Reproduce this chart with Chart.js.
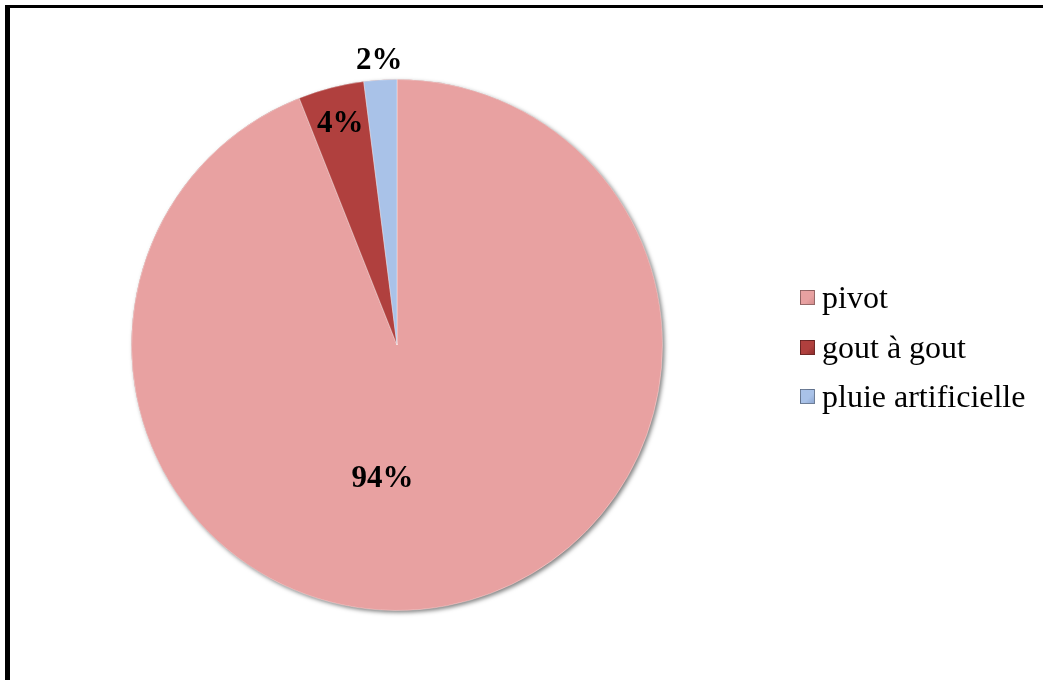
<!DOCTYPE html>
<html>
<head>
<meta charset="utf-8">
<script src="https://cdn.jsdelivr.net/npm/chart.js@4.4.1/dist/chart.umd.min.js"></script>
<style>
  html, body { margin: 0; padding: 0; background: #fff; }
  body { width: 1043px; height: 680px; position: relative; overflow: hidden; }
  #frame {
    position: absolute; left: 5px; top: 5px; width: 1100px; height: 672px;
    border-top: 3px solid #000; border-left: 5px solid #000;
    border-bottom: 1px solid #d0d0d0;
  }
  #chart { position: absolute; left: 0; top: 0; }
  #legend {
    position: absolute; left: 800px; top: 273px;
    font-family: "Liberation Serif", "Times New Roman", serif; font-size: 32px; color: #000;
  }
  .row { display: flex; align-items: center; height: 49.5px; }
  .box { width: 13px; height: 13px; margin-right: 7px; border: 1px solid rgba(0,0,0,0.35); box-sizing: content-box; }
</style>
</head>
<body>
<div id="frame"></div>
<canvas id="chart" width="1043" height="680"></canvas>
<div id="legend"></div>
<script>
const categories = ['pivot', 'gout à gout', 'pluie artificielle'];
const shares = [94, 4, 2];
const percentLabels = ['94%', '4%', '2%'];

const fills = ['#e8a1a1', '#b0403e', '#a9c2e8'];
const rims = ['#d48c8c', '#8f2e2c', '#8ea8d2'];
// radial position of each percentage label (fraction of the outer radius) and a sideways nudge
const labelRadius = [0.515, 0.858, 1.07];
const labelShiftX = [-40, 0, 0];

function sliceFill(ctx) {
  const i = ctx.dataIndex;
  const arc = ctx.element;
  const chart = ctx.chart;
  if (!arc || !arc.outerRadius) return fills[i];
  const g = chart.ctx.createRadialGradient(arc.x, arc.y, 0, arc.x, arc.y, arc.outerRadius);
  g.addColorStop(0, fills[i]);
  g.addColorStop(0.94, fills[i]);
  g.addColorStop(1, rims[i]);
  return g;
}

const pieShadow = {
  id: 'pieShadow',
  beforeDatasetsDraw(chart) {
    const arc = chart.getDatasetMeta(0).data[0];
    if (!arc) return;
    const c = chart.ctx;
    c.save();
    c.shadowColor = 'rgba(0,0,0,0.5)';
    c.shadowBlur = 4;
    c.shadowOffsetX = 2;
    c.shadowOffsetY = 2;
    c.fillStyle = '#b07070';
    c.beginPath();
    c.arc(arc.x, arc.y, arc.outerRadius, 0, Math.PI * 2);
    c.fill();
    c.restore();
  }
};

const percentText = {
  id: 'percentText',
  afterDatasetsDraw(chart) {
    const meta = chart.getDatasetMeta(0);
    const c = chart.ctx;
    c.save();
    c.font = 'bold 31px "Liberation Serif", "Times New Roman", serif';
    c.fillStyle = '#000';
    c.textAlign = 'center';
    c.textBaseline = 'middle';
    meta.data.forEach((arc, i) => {
      const mid = (arc.startAngle + arc.endAngle) / 2;
      const r = arc.outerRadius * labelRadius[i];
      c.fillText(percentLabels[i], arc.x + Math.cos(mid) * r + labelShiftX[i], arc.y + Math.sin(mid) * r);
    });
    c.restore();
  }
};

new Chart(document.getElementById('chart'), {
  type: 'pie',
  data: {
    labels: categories,
    datasets: [{
      data: shares,
      backgroundColor: sliceFill,
      borderColor: 'rgba(255,255,255,0.35)',
      borderWidth: 1
    }]
  },
  options: {
    responsive: false,
    animation: false,
    rotation: 0,
    layout: { padding: { left: 131, right: 380, top: 79, bottom: 69 } },
    plugins: { legend: { display: false }, tooltip: { enabled: false } }
  },
  plugins: [pieShadow, percentText]
});

const legend = document.getElementById('legend');
categories.forEach((name, i) => {
  const row = document.createElement('div');
  row.className = 'row';
  const box = document.createElement('span');
  box.className = 'box';
  box.style.background = 'linear-gradient(135deg, ' + fills[i] + ' 0%, ' + fills[i] + ' 60%, ' + rims[i] + ' 100%)';
  const txt = document.createElement('span');
  txt.textContent = name;
  row.appendChild(box);
  row.appendChild(txt);
  legend.appendChild(row);
});
</script>
</body>
</html>
